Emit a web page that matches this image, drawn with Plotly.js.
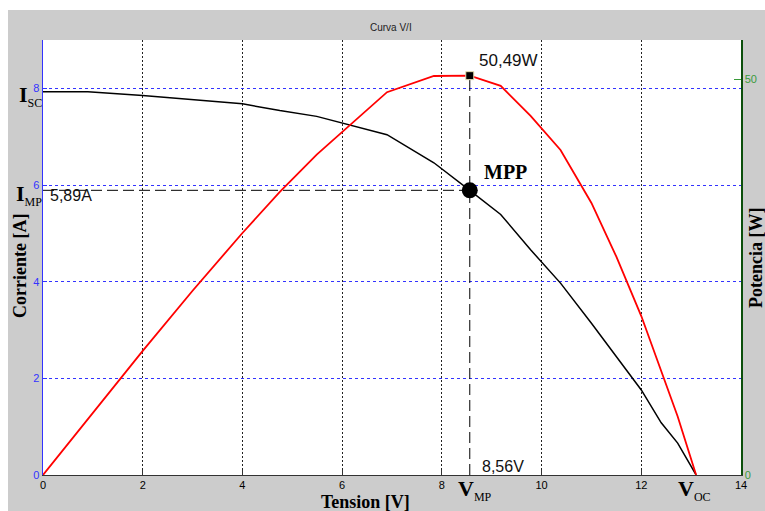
<!DOCTYPE html>
<html>
<head>
<meta charset="utf-8">
<script src="https://cdn.plot.ly/plotly-3.0.1.min.js"></script>
<style>html,body{margin:0;padding:0;background:#fff;}#chart{width:765px;height:511px;}</style>
</head>
<body>
<div id="chart"></div>
<script>
// ---- data ----
const voltage = [0, 0.9, 2, 3, 4, 4.75, 5.49, 6.9, 7.84, 8.56, 9.18, 9.78, 10.38, 11.0, 11.5, 12.0, 12.4, 12.73, 13.1];
const current = [7.93, 7.93, 7.85, 7.77, 7.68, 7.54, 7.42, 7.04, 6.46, 5.89, 5.39, 4.66, 3.97, 3.14, 2.45, 1.76, 1.08, 0.66, 0];
const power   = [0, 7.1, 15.7, 23.3, 30.6, 35.8, 40.5, 48.4, 50.45, 50.49, 49.2, 45.4, 41.1, 34.4, 27.6, 20.1, 13.0, 7.4, 0];
const vmp = 8.56, imp = 5.89, pmp = 50.49, voc = 13.1;
const xTicks = [0, 2, 4, 6, 8, 10, 12, 14];
const yTicks = [0, 2, 4, 6, 8];
const y2Ticks = [0, 50];

// ---- pixel helpers for layout placement ----
const L = 43, R = 24, T = 40, B = 36, W = 765, H = 511;
const pw = W - L - R, ph = H - T - B;
const px = x => (x - L) / pw;
const py = y => (H - B - y) / ph;

const serif = 'Liberation Serif, Times New Roman, serif';
const sans = 'Liberation Sans, Arial, sans-serif';

const traces = [
  { x: voltage, y: current, type: 'scatter', mode: 'lines', line: {color: '#000', width: 1.5}, yaxis: 'y', hoverinfo: 'skip' },
  { x: voltage, y: power, type: 'scatter', mode: 'lines', line: {color: '#ff0000', width: 1.8}, yaxis: 'y2', hoverinfo: 'skip' },
  { x: [0, vmp], y: [imp, imp], type: 'scatter', mode: 'lines', line: {color: '#000', width: 1, dash: '11px,5px'}, yaxis: 'y' },
  { x: [vmp, vmp], y: [0, pmp], type: 'scatter', mode: 'lines', line: {color: '#000', width: 1, dash: '11px,5px'}, yaxis: 'y2' },
  { x: [vmp], y: [imp], type: 'scatter', mode: 'markers', marker: {color: '#000', size: 16}, yaxis: 'y' },
  { x: [vmp], y: [pmp], type: 'scatter', mode: 'markers', marker: {color: '#000', size: 8, symbol: 'square', line: {color: '#e8e0b0', width: 1}}, yaxis: 'y2' }
];

const ann = (text, x, y, font, extra) => Object.assign({
  text, xref: 'paper', yref: 'paper', x: px(x), y: py(y), showarrow: false,
  xanchor: 'center', yanchor: 'middle', font
}, extra || {});
const subLabel = (main, sub) => '<b>' + main + '</b><sub><span style="font-size:12px">' + sub + '</span></sub>';

const layout = {
  width: W, height: H,
  margin: {l: L, r: R, t: T, b: B, pad: 0},
  paper_bgcolor: '#cccccc',
  plot_bgcolor: '#ffffff',
  showlegend: false,
  xaxis: {
    range: [0, 14], tickvals: xTicks, ticktext: xTicks.map(String),
    ticks: 'inside', ticklen: 5, tickcolor: '#333',
    showline: true, linecolor: '#333', linewidth: 1,
    showgrid: true, gridcolor: '#222', gridwidth: 1, griddash: '2px,2px',
    zeroline: false, tickfont: {family: sans, size: 11, color: '#000'}
  },
  yaxis: {
    range: [0, 9], tickvals: yTicks, ticktext: yTicks.map(String),
    ticks: 'inside', ticklen: 4, tickcolor: '#3333ff',
    showline: true, linecolor: '#3333ff', linewidth: 1.5,
    showgrid: true, gridcolor: '#3333ff', gridwidth: 1, griddash: '3px,3px',
    zeroline: false, tickfont: {family: sans, size: 11, color: '#3333ff'}
  },
  yaxis2: {
    range: [0, 55], tickvals: y2Ticks, ticktext: y2Ticks.map(String),
    overlaying: 'y', side: 'right',
    ticks: 'inside', ticklen: 7, tickcolor: '#3a9a3a',
    showline: true, linecolor: '#0b4f0b', linewidth: 1.5,
    showgrid: false, zeroline: false,
    tickfont: {family: sans, size: 11, color: '#3a9a3a'}
  },
  shapes: [
    {type: 'rect', xref: 'paper', yref: 'paper', x0: px(0), x1: px(W), y0: py(10), y1: py(0), fillcolor: '#fff', line: {width: 0}, layer: 'below'},
    {type: 'rect', xref: 'paper', yref: 'paper', x0: px(0), x1: px(8), y0: py(H), y1: py(0), fillcolor: '#fff', line: {width: 0}, layer: 'below'}
  ],
  annotations: [
    ann('Curva V/I', 391, 27, {family: sans, size: 10, color: '#222'}),
    ann('<b>Tension [V]</b>', 365, 502, {family: serif, size: 18, color: '#000'}),
    ann('<b>Corriente [A]</b>', 20, 266, {family: serif, size: 18, color: '#000'}, {textangle: -90}),
    ann('<b>Potencia [W]</b>', 756, 258, {family: serif, size: 18, color: '#000'}, {textangle: -90}),
    ann(subLabel('I', 'SC'), 30, 96, {family: serif, size: 22, color: '#000'}),
    ann(subLabel('I', 'MP'), 29, 195, {family: serif, size: 22, color: '#000'}),
    ann(subLabel('V', 'MP'), 475, 490, {family: serif, size: 22, color: '#000'}),
    ann(subLabel('V', 'OC'), 694, 490, {family: serif, size: 22, color: '#000'}),
    ann('<b>MPP</b>', 505, 172, {family: serif, size: 20, color: '#000'}),
    ann('50,49W', 508, 61, {family: sans, size: 17, color: '#111'}),
    ann('5,89A', 71, 195, {family: sans, size: 16, color: '#111'}),
    ann('8,56V', 503, 466, {family: sans, size: 16, color: '#111'})
  ]
};

Plotly.newPlot('chart', traces, layout, {displayModeBar: false, staticPlot: true});
</script>
</body>
</html>
